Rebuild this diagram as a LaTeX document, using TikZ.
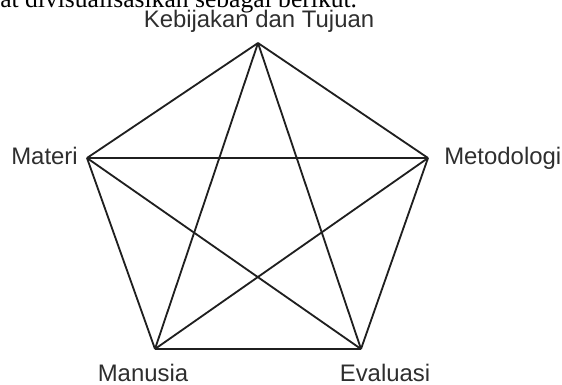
\documentclass[tikz,border=0pt]{standalone}
\usepackage{fontspec}
\setmainfont{Liberation Sans}
\newfontfamily\introfont{Liberation Serif}
\usetikzlibrary{positioning}

\begin{document}
\begin{tikzpicture}[
			x=0.025cm,y=-0.025cm,
			edge/.style={draw=black!88,line width=1.3pt,line join=round},
			tag/.style={inner sep=0pt,font=\fontsize{17}{20}\selectfont,text=black!82}
			]
			
			\useasboundingbox (0,0) rectangle (562,384);
			
			% cut-off line of the running text above the figure
			\node[anchor=base west,inner sep=0pt] (intro) at (0,7)
			{\fontsize{18.2}{22}\selectfont\introfont at divisualisasikan sebagai berikut.};
			
			\coordinate (kebijakan) at (258,43);
			\coordinate (materi) at (87,158);
			\coordinate (metodologi) at (428,158);
			\coordinate (manusia) at (155,349);
			\coordinate (evaluasi) at (361,349);
			
			\node[tag,anchor=base] (kebijakanlbl) at (259,27) {Kebijakan dan Tujuan};
			\node[tag,anchor=base east] (materilbl) at (78,164) {Materi};
			\node[tag,anchor=base west] (metodologilbl) at (444,164) {Metodologi};
			\node[tag,anchor=base] (manusialbl) at (143,381) {Manusia};
			\node[tag,anchor=base] (evaluasilbl) at (385,381) {Evaluasi};
			
			% pentagon
			\draw[edge] (kebijakan)--(metodologi);
			\draw[edge] (metodologi)--(evaluasi);
			\draw[edge] (evaluasi)--(manusia);
			\draw[edge] (manusia)--(materi);
			\draw[edge] (materi)--(kebijakan);
			
			% star
			\draw[edge] (kebijakan)--(manusia);
			\draw[edge] (kebijakan)--(evaluasi);
			\draw[edge] (materi)--(metodologi);
			\draw[edge] (materi)--(evaluasi);
			\draw[edge] (metodologi)--(manusia);
			
		\end{tikzpicture}
\end{document}
